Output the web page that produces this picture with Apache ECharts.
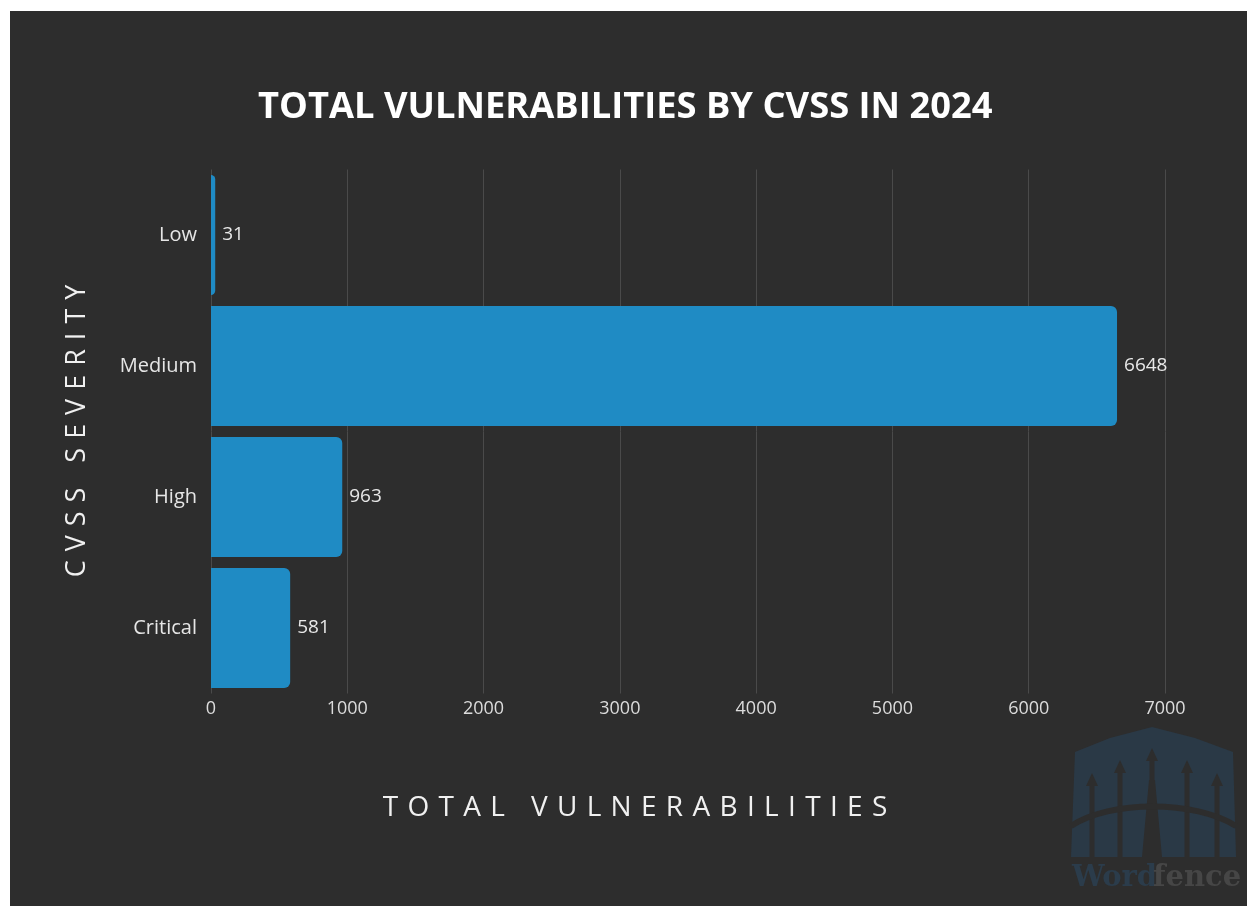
<!DOCTYPE html>
<html>
<head>
<meta charset="utf-8">
<script src="https://cdn.jsdelivr.net/npm/echarts@6/dist/echarts.min.js"></script>
<style>
  html, body { margin: 0; padding: 0; background: #ffffff; width: 1247px; height: 906px; overflow: hidden; }
  #chart { position: absolute; left: 10px; top: 11px; width: 1237px; height: 895px; }
</style>
</head>
<body>
<div id="chart"></div>
<script>
const titleText = 'TOTAL VULNERABILITIES BY CVSS IN 2024';
const categories = ['Low', 'Medium', 'High', 'Critical'];
const vulnerabilities = [31, 6648, 963, 581];
const xTicks = [0, 1000, 2000, 3000, 4000, 5000, 6000, 7000];
const xAxisTitle = 'TOTAL VULNERABILITIES';
const yAxisTitle = 'CVSS SEVERITY';

const FONT = '"Open Sans", "Noto Sans", sans-serif';
const OX = 10, OY = 11; // chart container offset in page

// widen letter spacing with real space characters (three-per-em space)
function track(s) {
  return s.split(' ').map(function (w) { return w.split('').join('\u2004'); }).join('\u2004\u2004 ');
}

const chart = echarts.init(document.getElementById('chart'), null, { renderer: 'canvas' });

// Wordfence watermark (decorative)
function P(x, y) { return [x - OX, y - OY]; }
const shieldColor = '#2a3946';
const bg = '#2d2d2d';
const pickets = [
  { x: 1092, top: 776 }, { x: 1120, top: 763 }, { x: 1152, top: 751 },
  { x: 1187, top: 763 }, { x: 1217, top: 776 }
];
const graphics = [
  {
    type: 'polygon', silent: true, z: 0,
    shape: { points: [P(1075, 752), P(1110, 738), P(1152, 727), P(1195, 738), P(1233, 752), P(1236, 857), P(1071, 857)] },
    style: { fill: shieldColor }
  }
];
pickets.forEach(function (p) {
  graphics.push({
    type: 'rect', silent: true, z: 1,
    shape: { x: p.x - 2.5 - OX, y: p.top + 6 - OY, width: 5, height: 857 - p.top - 6 },
    style: { fill: bg }
  });
  graphics.push({
    type: 'polygon', silent: true, z: 1,
    shape: { points: [P(p.x, p.top - 3), P(p.x - 6, p.top + 10), P(p.x + 6, p.top + 10)] },
    style: { fill: bg }
  });
});
graphics.push({
  type: 'polygon', silent: true, z: 1,
  shape: { points: [P(1149, 780), P(1155, 780), P(1162, 857), P(1142, 857)] },
  style: { fill: bg }
});
graphics.push({
  type: 'bezierCurve', silent: true, z: 1,
  shape: { x1: 1071 - OX, y1: 826 - OY, x2: 1236 - OX, y2: 826 - OY, cpx1: 1110 - OX, cpy1: 800 - OY, cpx2: 1195 - OX, cpy2: 800 - OY },
  style: { stroke: bg, lineWidth: 6, fill: null }
});
graphics.push({
  type: 'text', silent: true, z: 1,
  x: 1072 - OX, y: 878 - OY,
  style: { text: 'Word', fill: '#2b3c4b', font: 'bold 29px "DejaVu Serif", serif', verticalAlign: 'middle', align: 'left' }
});
graphics.push({
  type: 'text', silent: true, z: 1,
  x: 1153 - OX, y: 878 - OY,
  style: { text: 'fence', fill: '#464646', font: 'bold 29px "DejaVu Serif", serif', verticalAlign: 'middle', align: 'left' }
});
// axis titles
graphics.push({
  type: 'text', silent: true, z: 5,
  x: 635 - OX, y: 808 - OY,
  style: { text: track(xAxisTitle), fill: '#f0f0f0', font: '28px "Open Sans", sans-serif', align: 'center', verticalAlign: 'middle' }
});
graphics.push({
  type: 'text', silent: true, z: 5,
  x: 77 - OX, y: 431 - OY,
  rotation: Math.PI / 2,
  style: { text: track(yAxisTitle), fill: '#f0f0f0', font: '27px "Open Sans", sans-serif', align: 'center', verticalAlign: 'middle' }
});

const option = {
  backgroundColor: '#2d2d2d',
  animation: false,
  textStyle: { fontFamily: FONT },
  title: {
    text: titleText,
    left: 243,
    top: 74,
    textStyle: { color: '#ffffff', fontSize: 36.3, fontWeight: 'bold', fontFamily: FONT }
  },
  graphic: { elements: graphics },
  grid: { left: 201, right: 82, top: 158.5, bottom: 212.5, containLabel: false },
  xAxis: {
    type: 'value',
    min: xTicks[0],
    max: xTicks[xTicks.length - 1],
    interval: xTicks[1] - xTicks[0],
    axisLine: { show: false },
    axisTick: { show: false },
    axisLabel: { color: '#dcdcdc', fontSize: 18, margin: 6, fontFamily: FONT, formatter: function (v) { return String(v); } },
    splitLine: { show: true, lineStyle: { color: '#4a4a4a', width: 1 } }
  },
  yAxis: {
    type: 'category',
    data: categories,
    inverse: true,
    axisLine: { show: false },
    axisTick: { show: false },
    axisLabel: { color: '#e6e6e6', fontSize: 20, margin: 14, fontFamily: FONT },
    splitLine: { show: false }
  },
  series: [{
    type: 'bar',
    data: vulnerabilities,
    barCategoryGap: '8.4%',
    itemStyle: { color: '#1f8bc4', borderRadius: [0, 6, 6, 0] },
    label: {
      show: true,
      position: 'right',
      distance: 7,
      color: '#e8e8e8',
      fontSize: 19,
      fontFamily: FONT
    }
  }]
};
chart.setOption(option);
</script>
</body>
</html>
